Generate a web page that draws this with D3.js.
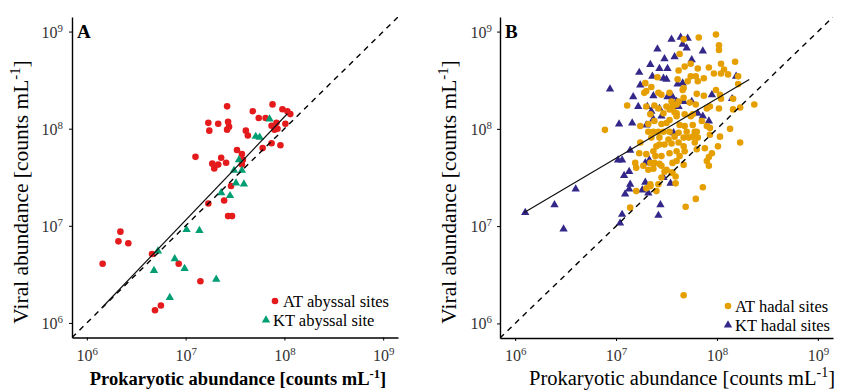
<!DOCTYPE html>
<html>
<head>
<meta charset="utf-8">
<script src="https://cdn.jsdelivr.net/npm/d3@7"></script>
<style>
  body { margin: 0; background: #fff; }
  svg { font-family: "Liberation Serif", "Times New Roman", serif; }
</style>
</head>
<body>
<svg width="842" height="390"></svg>
<script>
// values are log10(counts mL-1): [prokaryotic, viral]
const atAbyssal = [
  [7.10,7.71],[7.23,8.06],[7.24,7.98],[7.33,8.05],[7.42,8.23],[7.43,8.07],[7.44,8.02],[7.42,7.99],
  [7.27,7.64],[7.33,7.63],[7.29,7.59],[7.36,7.70],[7.41,7.65],[7.52,7.78],[7.57,7.74],[7.58,7.68],
  [7.57,7.63],[7.61,7.98],[7.63,7.93],[7.68,8.18],[7.74,8.11],[7.81,8.11],[7.88,8.25],[7.98,8.20],
  [8.03,8.18],[8.06,8.15],[7.87,8.03],[7.92,8.06],[7.93,8.00],[7.90,7.99],[8.01,8.05],[7.78,7.80],
  [7.87,7.85],[7.96,7.83],[7.46,7.41],[7.39,7.26],[7.23,7.23],[7.43,7.10],[7.47,7.10],[6.34,6.94],
  [6.32,6.84],[6.42,6.82],[6.16,6.61],[6.66,6.71],[6.93,6.61],[7.15,6.43],[6.75,6.18],[6.69,6.13]
];
const ktAbyssal = [
  [7.85,8.10],[7.71,7.92],[7.75,7.91],[7.54,7.68],[7.49,7.57],[7.57,7.57],[7.51,7.44],[7.59,7.43],
  [7.36,7.34],[7.45,7.31],[7.01,6.96],[7.14,6.95],[6.72,6.74],[6.89,6.66],[6.68,6.54],[6.99,6.56],
  [7.31,6.45],[6.84,6.26]
];
const atHadal = [
  [7.99,8.97],[7.82,8.94],[7.67,8.92],[8.02,8.86],[8.02,8.81],[7.63,8.77],[8.18,8.69],[7.68,8.64],
  [7.74,8.67],[7.81,8.62],[7.92,8.63],[7.97,8.57],[8.04,8.67],[8.07,8.61],[8.11,8.56],[8.04,8.57],
  [8.21,8.54],[7.62,8.60],[7.74,8.54],[7.79,8.54],[7.81,8.49],[7.87,8.52],[7.61,8.51],[7.71,8.49],
  [8.21,8.46],[7.66,8.40],[7.67,8.42],[7.80,8.36],[7.87,8.34],[7.99,8.40],[8.03,8.35],[8.16,8.31],
  [8.23,8.22],[8.37,8.25],[8.04,8.31],[7.93,8.23],[7.73,8.27],[7.79,8.25],[7.67,8.32],[7.62,8.28],
  [7.56,8.23],[7.60,8.16],[7.68,8.15],[7.74,8.13],[7.76,8.15],[7.90,8.21],[8.02,8.21],[8.16,8.20],
  [8.13,8.00],[8.23,7.86],[8.03,7.92],[8.01,7.82],[7.90,8.03],[7.93,8.01],[7.85,8.08],[7.76,8.04],
  [7.78,7.97],[7.63,8.04],[7.68,8.03],[7.62,7.96],[7.67,7.91],[7.72,7.91],[7.80,7.97],[7.81,7.91],
  [7.78,7.86],[7.93,7.94],[7.80,7.79],[7.67,7.82],[7.62,7.86],[7.88,7.80],[7.95,7.75],[7.92,7.71],
  [7.90,7.67],[7.41,8.53],[7.35,8.43],[7.29,8.47],[7.28,8.37],[7.30,8.39],[7.42,8.37],[7.45,8.35],
  [7.53,8.37],[7.55,8.28],[7.60,8.25],[7.11,8.24],[7.30,8.23],[7.38,8.24],[7.42,8.21],[7.53,8.20],
  [7.58,8.17],[6.89,7.99],[7.24,8.03],[7.32,8.05],[7.38,8.08],[7.45,8.05],[7.50,8.06],[7.53,8.09],
  [7.60,8.13],[7.24,7.86],[7.32,7.97],[7.37,7.97],[7.42,7.97],[7.47,7.97],[7.53,7.97],[7.35,7.91],
  [7.43,7.91],[7.52,7.89],[7.43,7.84],[7.48,7.84],[7.55,7.85],[7.23,7.75],[7.30,7.74],[7.37,7.77],
  [7.39,7.72],[7.45,7.72],[7.53,7.75],[7.60,7.77],[7.19,7.65],[7.20,7.60],[7.34,7.65],[7.38,7.65],
  [7.43,7.64],[7.27,7.62],[7.32,7.58],[7.37,7.59],[7.45,7.62],[7.50,7.58],[7.55,7.55],[7.48,7.56],
  [7.56,7.65],[7.60,7.67],[7.63,7.72],[7.68,7.77],[7.67,7.63],[7.92,7.62],[7.56,7.55],[7.59,7.51],
  [7.45,7.50],[7.42,7.43],[7.34,7.43],[7.30,7.39],[7.34,7.41],[7.40,7.36],[7.20,7.36],[7.14,7.19],
  [7.59,7.44],[7.69,7.20],[7.79,7.28],[7.86,7.40],[7.67,6.29],[7.47,8.16],[7.50,8.23],[7.34,8.15],
  [7.40,7.82],[7.58,7.92],[7.70,7.97],[7.76,7.92]
];
const ktHadal = [
  [7.55,8.92],[7.64,8.94],[7.71,8.93],[7.66,8.87],[7.70,8.83],[7.41,8.82],[7.86,8.80],[7.48,8.72],
  [7.58,8.74],[7.75,8.71],[7.34,8.66],[7.43,8.62],[7.51,8.62],[7.23,8.58],[7.36,8.54],[7.47,8.52],
  [7.50,8.51],[7.61,8.46],[7.66,8.47],[7.24,8.45],[6.94,8.41],[7.17,8.33],[7.37,8.34],[7.51,8.33],
  [7.56,8.33],[7.60,8.28],[7.67,8.28],[7.22,8.23],[7.31,8.23],[7.35,8.18],[7.43,8.21],[7.62,8.23],
  [7.75,8.28],[7.95,8.35],[8.15,8.31],[8.19,8.54],[7.03,8.05],[7.16,8.06],[7.30,8.04],[7.37,8.10],
  [7.45,8.13],[7.81,8.16],[7.86,8.13],[7.92,8.08],[7.57,7.96],[7.14,7.78],[7.02,7.68],[7.06,7.68],
  [7.08,7.52],[7.13,7.56],[7.29,7.65],[7.33,7.68],[7.14,7.43],[7.13,7.38],[7.09,7.33],[7.29,7.45],
  [7.26,7.37],[7.32,7.34],[7.47,7.50],[7.54,7.44],[7.44,7.22],[7.42,7.11],[7.06,7.12],[7.04,7.03],
  [6.60,7.38],[6.39,7.22],[6.48,6.97],[6.10,7.14]
];
// log-log fits: [slope, intercept, x from, x to]
const fitA = [1.064, -0.39, 6.15, 8.03];
const fitB = [0.614, 3.40, 6.09, 8.32];
const tickVals = [1e6, 1e7, 1e8, 1e9];
const logDomain = [5.85, 9.15];

const colAT1 = "#E41A1C", colKT1 = "#009E73", colAT2 = "#E69F00", colKT2 = "#33288A";

const svg = d3.select("svg");
const circ = d3.symbol().type(d3.symbolCircle).size(34);
const tri = d3.symbol().type(d3.symbolTriangle).size(30);

function supText(sel, base, sup, tail) {
  sel.append("tspan").text(base);
  sel.append("tspan").attr("font-size", "0.68em").attr("dy", "-0.55em").text(sup);
  if (tail) sel.append("tspan").attr("dy", "0.38em").text(tail);
}

function panel(o) {
  const x = d3.scaleLog().domain(logDomain.map(v => 10 ** v)).range([o.x0, o.x1]);
  const y = d3.scaleLog().domain(logDomain.map(v => 10 ** v)).range([o.y0, o.y1]);
  const g = svg.append("g");

  g.append("clipPath").attr("id", "clip" + o.id).append("rect")
    .attr("x", o.x0).attr("y", o.y1).attr("width", o.x1 - o.x0).attr("height", o.y0 - o.y1);

  // points
  const pts = g.append("g");
  pts.selectAll(".s1").data(o.first.data).join("path")
    .attr("d", o.first.sym).attr("fill", o.first.col)
    .attr("transform", d => `translate(${x(10 ** d[0])},${y(10 ** d[1])})`);
  pts.selectAll(".s2").data(o.second.data).join("path")
    .attr("d", o.second.sym).attr("fill", o.second.col)
    .attr("transform", d => `translate(${x(10 ** d[0])},${y(10 ** d[1])})`);

  // 1:1 line
  g.append("line").attr("clip-path", `url(#clip${o.id})`)
    .attr("x1", x(10 ** logDomain[0])).attr("y1", y(10 ** logDomain[0]))
    .attr("x2", x(10 ** logDomain[1])).attr("y2", y(10 ** logDomain[1]))
    .attr("stroke", "#000").attr("stroke-width", 1.4).attr("stroke-dasharray", "5.5,5");

  // regression line
  const [m, b, f0, f1] = o.fit;
  g.append("line")
    .attr("x1", x(10 ** f0)).attr("y1", y(10 ** (m * f0 + b)))
    .attr("x2", x(10 ** f1)).attr("y2", y(10 ** (m * f1 + b)))
    .attr("stroke", "#111").attr("stroke-width", 1.2);

  // axes
  const ax = g.append("g").attr("transform", `translate(0,${o.y0})`)
    .call(d3.axisBottom(x).tickValues(tickVals).tickFormat("").tickSize(3).tickSizeOuter(0));
  const ay = g.append("g").attr("transform", `translate(${o.x0},0)`)
    .call(d3.axisLeft(y).tickValues(tickVals).tickFormat("").tickSize(3).tickSizeOuter(0));
  [ax, ay].forEach(a => {
    a.select(".domain").attr("stroke-width", 1.4);
    a.selectAll(".tick line").attr("stroke-width", 1);
  });
  ax.selectAll(".tick").append("text")
    .attr("y", 23).attr("text-anchor", "middle").attr("fill", "#333")
    .attr("font-size", 16).attr("font-family", "Liberation Serif")
    .each(function (d) { supText(d3.select(this), "10", Math.round(Math.log10(d))); });
  ay.selectAll(".tick").append("text")
    .attr("x", o.ylabEnd - o.x0).attr("dy", 5.5).attr("text-anchor", "end").attr("fill", "#333")
    .attr("font-size", 16).attr("font-family", "Liberation Serif")
    .each(function (d) { supText(d3.select(this), "10", Math.round(Math.log10(d))); });

  // titles
  g.append("text").attr("x", o.xtX).attr("y", 385).attr("text-anchor", "middle")
    .attr("font-size", o.xtSize).attr("font-weight", o.xtWeight)
    .call(s => supText(s, "Prokaryotic abundance [counts mL", "-1", "]"));
  g.append("text").attr("transform", `translate(${o.ytX},192) rotate(-90)`)
    .attr("text-anchor", "middle").attr("font-size", 21.5)
    .call(s => supText(s, "Viral abundance [counts mL", "-1", "]"));
  g.append("text").attr("x", o.x0 + 5).attr("y", 38).attr("font-size", 19)
    .attr("font-weight", "bold").text(o.id);

  // legend
  const leg = g.append("g");
  o.legend.forEach(l => {
    leg.append("path").attr("d", l.sym).attr("fill", l.col)
      .attr("transform", `translate(${l.sx},${l.sy})`);
    leg.append("text").attr("x", l.tx).attr("y", l.ty).attr("font-size", 16.5).text(l.label);
  });
}

panel({
  id: "A", x0: 72, x1: 398, y0: 337.5, y1: 17, ylabEnd: 63,
  first: { data: atAbyssal, sym: circ, col: colAT1 },
  second: { data: ktAbyssal, sym: tri, col: colKT1 },
  fit: fitA, xtX: 238, xtSize: 18.5, xtWeight: "bold", ytX: 28,
  legend: [
    { sym: circ, col: colAT1, sx: 275, sy: 301, tx: 283, ty: 307, label: "AT abyssal sites" },
    { sym: tri, col: colKT1, sx: 266, sy: 320, tx: 273, ty: 326, label: "KT abyssal site" }
  ]
});

panel({
  id: "B", x0: 500, x1: 833, y0: 338, y1: 17, ylabEnd: 492,
  first: { data: ktHadal, sym: tri, col: colKT2 },
  second: { data: atHadal, sym: circ, col: colAT2 },
  fit: fitB, xtX: 682, xtSize: 20.5, xtWeight: "normal", ytX: 456,
  legend: [
    { sym: circ, col: colAT2, sx: 728, sy: 306, tx: 735, ty: 312, label: "AT hadal sites" },
    { sym: tri, col: colKT2, sx: 728, sy: 325, tx: 735, ty: 331, label: "KT hadal sites" }
  ]
});
</script>
</body>
</html>
